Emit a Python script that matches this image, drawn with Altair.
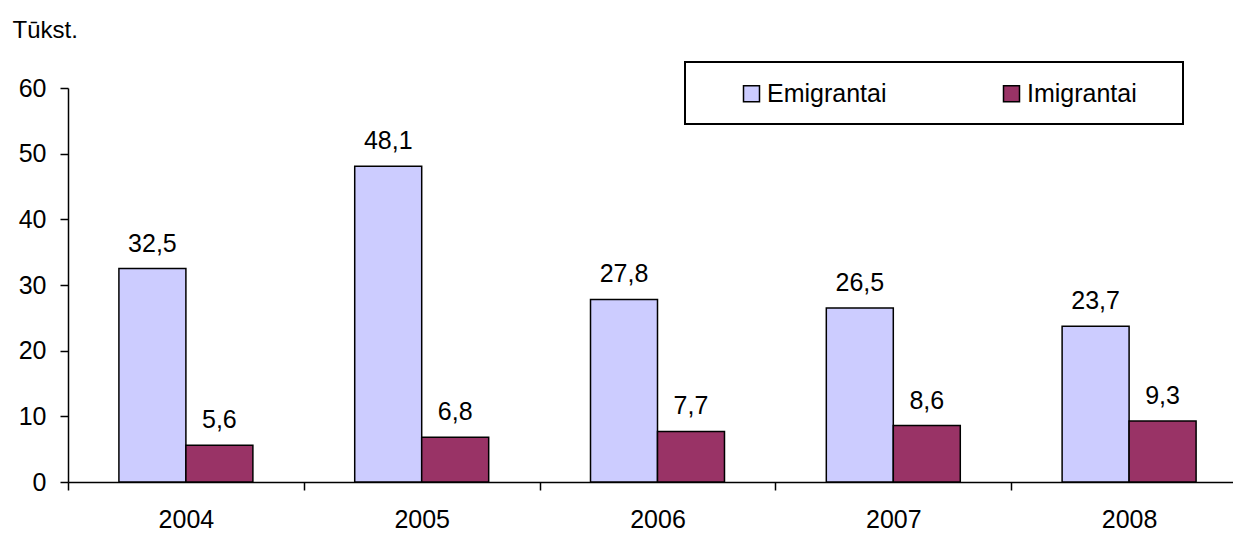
import altair as alt
import pandas as pd

years = ["2004", "2005", "2006", "2007", "2008"]
series = ["Emigrantai", "Imigrantai"]
emigrantai = [32.5, 48.1, 27.8, 26.5, 23.7]
imigrantai = [5.6, 6.8, 7.7, 8.6, 9.3]
colors = ["#CCCCFF", "#993366"]
y_ticks = [0, 10, 20, 30, 40, 50, 60]

rows = []
for i, yr in enumerate(years):
    for s, vals in zip(series, [emigrantai, imigrantai]):
        v = vals[i]
        rows.append({"year": yr, "series": s, "value": v,
                     "label": f"{v:.1f}".replace(".", ",")})
df = pd.DataFrame(rows)

FONT = "Liberation Sans"
FS = 25

x = alt.X("year:N", title=None,
          scale=alt.Scale(domain=years, range=[0, 1179], paddingInner=0, paddingOuter=0),
          axis=alt.Axis(labelAngle=0, tickBand="extent", tickSize=8, labelPadding=17,
                        domainColor="black", tickColor="black", domainWidth=1.5, tickWidth=1.5,
                        labelFont=FONT, labelFontSize=FS, labelColor="black"))
xo = alt.XOffset("series:N", scale=alt.Scale(domain=series, paddingInner=0, paddingOuter=0.76))
y = alt.Y("value:Q",
          scale=alt.Scale(domain=[0, 60], nice=False),
          axis=alt.Axis(values=y_ticks, grid=False, tickSize=8, labelPadding=14,
                        domainColor="black", tickColor="black", domainWidth=1.5, tickWidth=1.5,
                        labelFont=FONT, labelFontSize=FS, labelColor="black",
                        title="Tūkst.", titleAngle=0, titleX=-56, titleY=-51,
                        titleAlign="left", titleBaseline="alphabetic", titleFont=FONT,
                        titleFontSize=24, titleFontWeight="normal", titleColor="black"))
color = alt.Color("series:N",
                  scale=alt.Scale(domain=series, range=colors),
                  legend=alt.Legend(title=None, orient="none", legendX=671, legendY=-7,
                                    direction="horizontal", symbolType="square", symbolSize=256,
                                    symbolStrokeColor="black", symbolStrokeWidth=1.5,
                                    symbolOpacity=1, padding=0, labelOffset=3,
                                    columnPadding=112, labelFont=FONT, labelFontSize=FS,
                                    labelColor="black"))

box = alt.Chart(pd.DataFrame({"a": [0]})).mark_rect(
    fill="white", stroke="black", strokeWidth=2
).encode(x=alt.value(617), x2=alt.value(1115), y=alt.value(-26), y2=alt.value(36))

base = alt.Chart(df)
bars = base.mark_bar(stroke="black", strokeWidth=1.5).encode(x=x, xOffset=xo, y=y, color=color)
labels = base.mark_text(dy=-17, baseline="alphabetic", font=FONT, fontSize=FS, color="black").encode(
    x=x, xOffset=xo, y=y, text="label:N")

chart = alt.layer(box, bars, labels).properties(
    width=1165, height=394, background="white",
    padding={"left": 60, "top": 80, "right": 0, "bottom": 51},
    autosize=alt.AutoSizeParams(type="none"),
).configure_view(stroke=None)

chart.save("out.html", embed_options={"renderer": "svg", "actions": False})
